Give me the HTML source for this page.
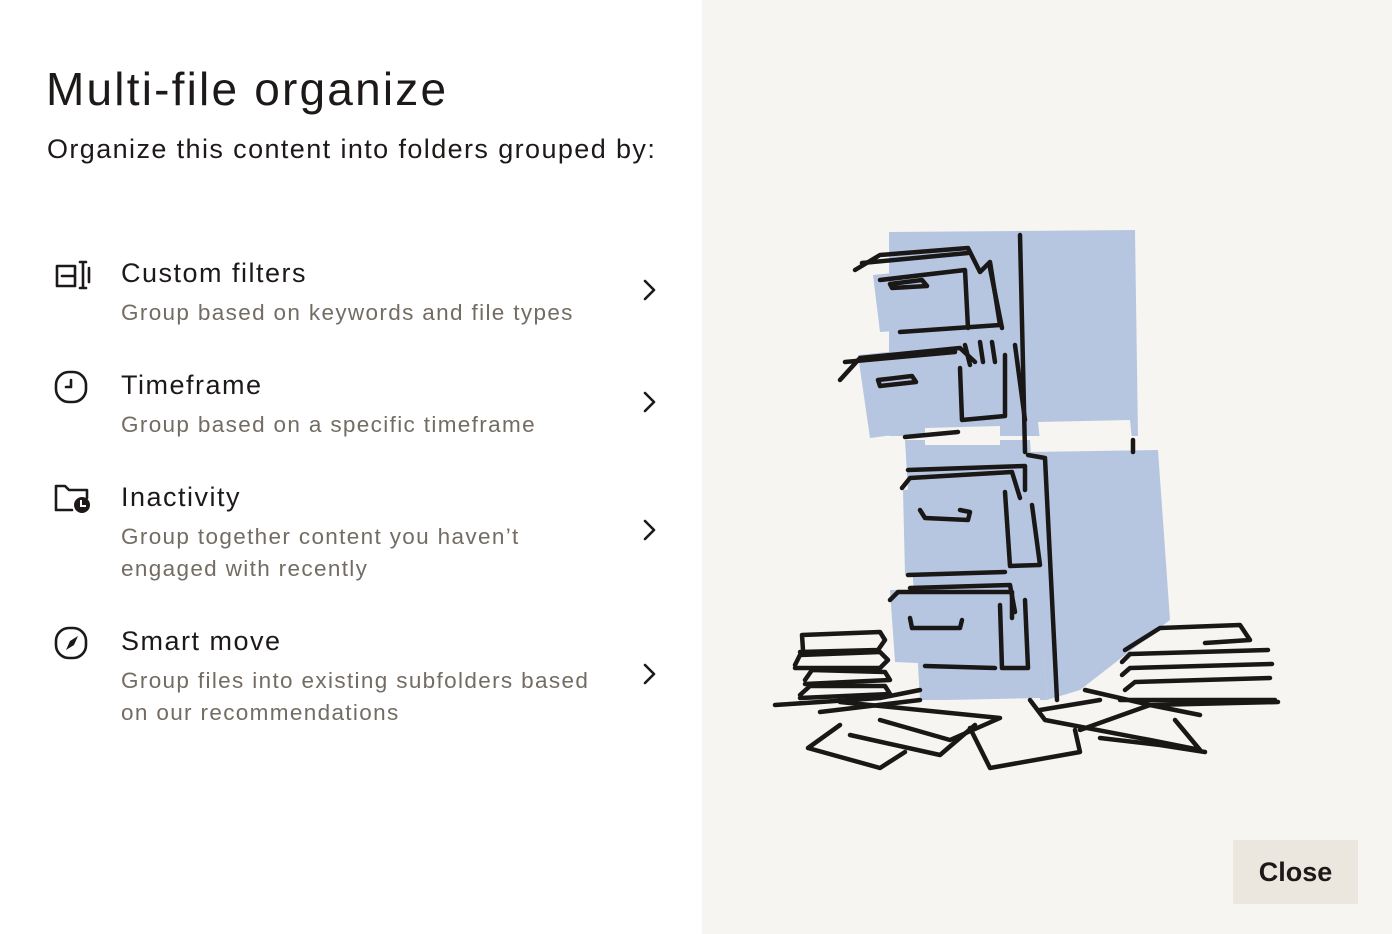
<!DOCTYPE html>
<html><head><meta charset="utf-8"><style>
*{margin:0;padding:0;box-sizing:border-box}
body{width:1392px;height:934px;overflow:hidden;background:#fff;font-family:"Liberation Sans",sans-serif;color:#1e1919;position:relative}
#right{position:absolute;left:702px;top:0;width:690px;height:934px;background:#f6f5f2}
.t{position:absolute;white-space:nowrap}
h1{position:absolute;left:46px;top:62px;font-weight:400;font-size:46px;letter-spacing:2.2px;white-space:nowrap}
.sub{left:47px;top:134px;font-size:27px;letter-spacing:1.4px}
.it{position:absolute;left:121px;font-size:27px;letter-spacing:1.5px}
.ds{position:absolute;left:121px;font-size:22.5px;color:#736c64;line-height:32px;letter-spacing:1.35px}
.close{position:absolute;left:1233px;top:840px;width:125px;height:64px;background:#ebe6de;font-weight:700;font-size:27px;text-align:center;line-height:64px;color:#1e1919}
svg{position:absolute;left:0;top:0}
</style></head><body>
<div id="right"></div>
<h1>Multi-file organize</h1>
<div class="t sub">Organize this content into folders grouped by:</div>

<div class="it" style="top:258px">Custom filters</div>
<div class="ds" style="top:297px">Group based on keywords and file types</div>
<div class="it" style="top:370px">Timeframe</div>
<div class="ds" style="top:409px">Group based on a specific timeframe</div>
<div class="it" style="top:482px">Inactivity</div>
<div class="ds" style="top:521px">Group together content you haven’t<br>engaged with recently</div>
<div class="it" style="top:626px">Smart move</div>
<div class="ds" style="top:665px">Group files into existing subfolders based<br>on our recommendations</div>

<div class="close">Close</div>

<svg width="1392" height="934" viewBox="0 0 1392 934">
<g fill="none" stroke="#1e1919" stroke-width="2.6" stroke-linecap="round" stroke-linejoin="round">
 <path d="M57 266h18v20H57z M62 276h13"/>
 <path d="M80 262h6M80 288h6M83 262v26M89 268v14"/>
 <rect x="56" y="372" width="30" height="30" rx="13"/>
 <path d="M71 380v7h-5"/>
 <path d="M56 510v-24h9l4 4h18v8M56 510h16"/>
 <rect x="56" y="628" width="30" height="30" rx="13"/>
 <path d="M645 281l9 9-9 9M645 393l9 9-9 9M645 521l9 9-9 9M645 665l9 9-9 9"/>
</g>
<circle cx="82" cy="505" r="8" fill="#1e1919"/>
<path d="M81 500v6h5" stroke="#fff" stroke-width="2" fill="none"/>
<path d="M66 650l4-9 8-5-4 9z" fill="#1e1919"/>

<g fill="#b7c6e0">
 <path d="M889 232L1135 230L1138 436L889 436Z"/>
 <path d="M873 275L1000 262L1003 325L880 332Z"/>
 <path d="M858 355L1005 340L1008 420L870 438Z"/>
 <path d="M905 440L1030 440L1047 700L920 700Z"/>
 <path d="M1030 452L1158 450L1170 620L1080 690L1047 700Z"/>
 <path d="M903 490L1030 480L1032 570L905 575Z"/>
 <path d="M890 590L1025 588L1028 668L895 662Z"/>
</g>
<g fill="#f6f5f2">
 <path d="M1038 422L1130 420L1132 440L1040 440Z"/>
 <path d="M925 428L1000 426L1000 445L925 445Z"/>
 <path d="M945 700L1040 698L1040 720L945 720Z"/>
</g>
<g fill="none" stroke="#1a1717" stroke-width="4.5" stroke-linecap="round" stroke-linejoin="round">
 <path d="M1020 235L1025 452"/>
 <path d="M1028 455L1045 458L1057 700"/>
 <path d="M1133 440L1133 452"/>
 <path d="M855 270L880 255L968 248L980 272L990 262L1000 325L900 332"/>
 <path d="M880 280L965 270L968 328"/>
 <path d="M890 284L922 280L927 286L892 288Z"/>
 <path d="M862 263L968 253M990 268L1002 328"/>
 <path d="M840 380L860 358L960 348L975 362"/>
 <path d="M845 362L955 352M965 345L970 365M980 342L983 362M992 342L995 362"/>
 <path d="M960 368L962 420L1005 416L1005 355"/>
 <path d="M878 380L912 376L916 382L880 386Z"/>
 <path d="M905 437L958 432"/>
 <path d="M1015 345L1025 420"/>
 <path d="M902 488L910 478L1012 472L1020 498"/>
 <path d="M908 470L1025 466L1025 490"/>
 <path d="M1005 492L1010 566L1040 565L1032 505"/>
 <path d="M920 510L925 518L968 520L970 512L960 510"/>
 <path d="M908 575L1005 572"/>
 <path d="M890 600L898 592L1012 592L1012 618"/>
 <path d="M910 588L1010 585L1015 612"/>
 <path d="M1000 605L1002 668L1028 668L1025 600"/>
 <path d="M910 618L912 628L960 628L962 620"/>
 <path d="M925 666L995 668"/>
 <path d="M803 650L802 635L880 632L885 640L878 650L800 652"/>
 <path d="M795 665L800 655L880 652L888 660L880 668L795 668"/>
 <path d="M805 680L812 670L885 672L890 680L805 684"/>
 <path d="M800 695L810 686L885 686L890 694L800 698"/>
 <path d="M775 705L880 698L920 690M820 712L920 700"/>
 <path d="M1125 650L1160 628L1240 625L1250 640L1205 643"/>
 <path d="M1122 662L1130 654L1268 650"/>
 <path d="M1122 675L1130 668L1272 664"/>
 <path d="M1125 690L1135 682L1270 678"/>
 <path d="M1120 700L1275 700M1085 690L1150 705L1278 702"/>
 <path d="M840 702L1000 718L950 740L880 720"/>
 <path d="M808 748L840 725M808 748L880 768L905 752"/>
 <path d="M850 735L940 755L975 725"/>
 <path d="M970 728L990 768L1080 752L1075 730"/>
 <path d="M1030 700L1045 720L1150 740L1200 750L1175 720"/>
 <path d="M1080 730L1150 705L1200 715"/>
 <path d="M1100 738L1160 745L1205 752"/>
 <path d="M1040 710L1100 700"/>
</g>
</svg>
</body></html>
